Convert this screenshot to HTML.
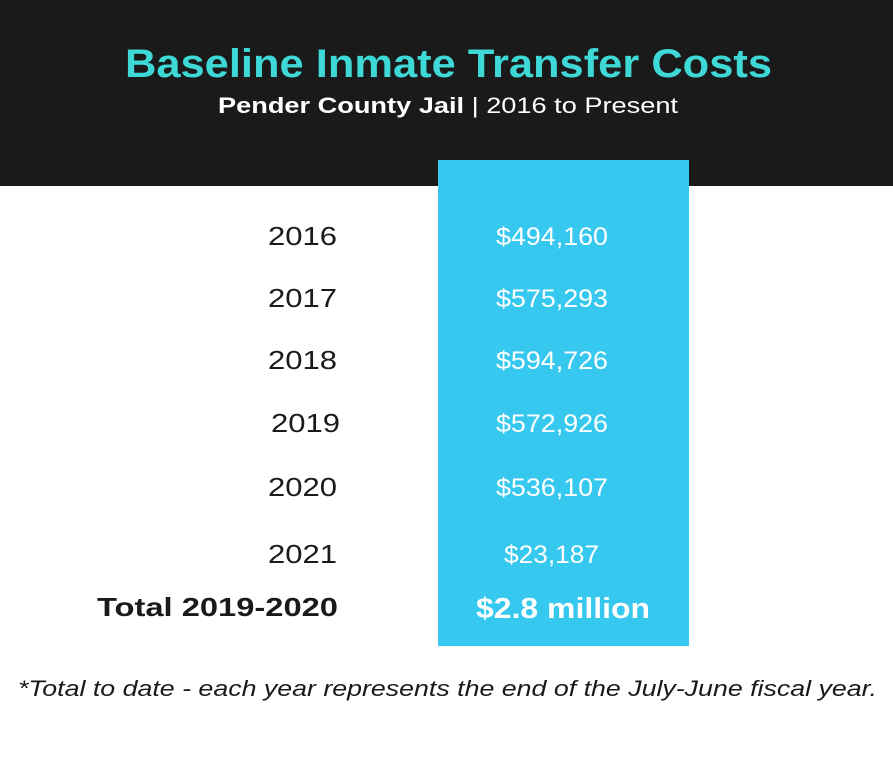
<!DOCTYPE html>
<html><head><style>html,body{margin:0;padding:0;background:#fff}svg{display:block}</style></head>
<body>
<svg width="893" height="782" xmlns="http://www.w3.org/2000/svg" font-family="Liberation Sans, sans-serif">
<rect x="0" y="0" width="893" height="186" fill="#1a1a1a"/>
<rect x="438" y="160" width="251" height="486" fill="#36c8ef"/>
<text x="125" y="77" font-size="40" font-weight="bold" fill="#3ed8d7" textLength="647" lengthAdjust="spacingAndGlyphs">Baseline Inmate Transfer Costs</text>
<text x="218" y="113" font-size="22" fill="#fff" textLength="460" lengthAdjust="spacingAndGlyphs"><tspan font-weight="bold">Pender County Jail</tspan> | 2016 to Present</text>
<g font-size="26" fill="#1a1a1a">
<text x="268" y="245" textLength="69" lengthAdjust="spacingAndGlyphs">2016</text>
<text x="268" y="307" textLength="69" lengthAdjust="spacingAndGlyphs">2017</text>
<text x="268" y="369" textLength="69" lengthAdjust="spacingAndGlyphs">2018</text>
<text x="271" y="432" textLength="69" lengthAdjust="spacingAndGlyphs">2019</text>
<text x="268" y="496" textLength="69" lengthAdjust="spacingAndGlyphs">2020</text>
<text x="268" y="563" textLength="69" lengthAdjust="spacingAndGlyphs">2021</text>
</g>
<g font-size="25" fill="#fff">
<text x="496" y="245" textLength="112" lengthAdjust="spacingAndGlyphs">$494,160</text>
<text x="496" y="307" textLength="112" lengthAdjust="spacingAndGlyphs">$575,293</text>
<text x="496" y="369" textLength="112" lengthAdjust="spacingAndGlyphs">$594,726</text>
<text x="496" y="432" textLength="112" lengthAdjust="spacingAndGlyphs">$572,926</text>
<text x="496" y="496" textLength="112" lengthAdjust="spacingAndGlyphs">$536,107</text>
<text x="504" y="563" textLength="95" lengthAdjust="spacingAndGlyphs">$23,187</text>
</g>
<text x="97" y="616" font-size="26" font-weight="bold" fill="#1a1a1a" textLength="241" lengthAdjust="spacingAndGlyphs">Total 2019-2020</text>
<text x="476" y="618" font-size="29" font-weight="bold" fill="#fff" textLength="174" lengthAdjust="spacingAndGlyphs">$2.8 million</text>
<text x="18" y="696" font-size="22" font-style="italic" fill="#1a1a1a" textLength="859" lengthAdjust="spacingAndGlyphs">*Total to date - each year represents the end of the July-June fiscal year.</text>
</svg>
</body></html>
